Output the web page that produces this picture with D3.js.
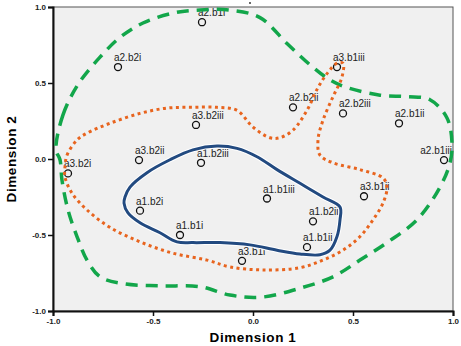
<!DOCTYPE html>
<html>
<head>
<meta charset="utf-8">
<script src="https://cdn.jsdelivr.net/npm/d3@7"></script>
<style>
  body { margin: 0; background: #fff; }
  text { font-family: "Liberation Sans", Arial, sans-serif; }
</style>
</head>
<body>
<svg id="chart" width="461" height="346"></svg>
<script>
// point labels and their coordinates (Dimension 1, Dimension 2)
const labels = ['a2.b1i', 'a2.b2i', 'a3.b2iii', 'a3.b2ii', 'a1.b2iii', 'a3.b2i', 'a3.b1iii', 'a2.b2ii',
  'a2.b2iii', 'a2.b1ii', 'a2.b1iii', 'a1.b2i', 'a1.b1i', 'a1.b1iii', 'a3.b1ii', 'a1.b2ii', 'a1.b1ii', 'a3.b1i'];
const dim1 = [-0.255, -0.675, -0.285, -0.57, -0.26, -0.925, 0.42, 0.2, 0.45, 0.73, 0.955, -0.565, -0.365, 0.07, 0.555, 0.30, 0.27, -0.055];
const dim2 = [0.90, 0.605, 0.224, -0.007, -0.025, -0.095, 0.605, 0.34, 0.30, 0.235, -0.007, -0.34, -0.5, -0.26, -0.245, -0.41, -0.58, -0.67];

const ticks = [-1.0, -0.5, 0.0, 0.5, 1.0];

// hand drawn group outlines
const greenOutline = [[-0.985, 0.06], [-0.95, 0.29], [-0.875, 0.49], [-0.765, 0.67], [-0.665, 0.80], [-0.55, 0.895],
  [-0.40, 0.96], [-0.265, 0.98], [-0.115, 0.98], [0.035, 0.93], [0.17, 0.76], [0.285, 0.62], [0.385, 0.52],
  [0.47, 0.47], [0.635, 0.42], [0.77, 0.41], [0.885, 0.39], [0.97, 0.27], [0.995, 0.105], [0.985, -0.025],
  [0.935, -0.185], [0.82, -0.40], [0.67, -0.55], [0.535, -0.665], [0.40, -0.775], [0.235, -0.85], [0.035, -0.91],
  [-0.115, -0.895], [-0.265, -0.84], [-0.465, -0.835], [-0.65, -0.82], [-0.765, -0.775], [-0.83, -0.665],
  [-0.88, -0.51], [-0.925, -0.335], [-0.955, -0.14], [-0.965, -0.005]];
const orangeOutline = [[-0.94, -0.05], [-0.93, 0.025], [-0.88, 0.125], [-0.83, 0.17], [-0.715, 0.235], [-0.565, 0.30],
  [-0.43, 0.335], [-0.30, 0.34], [-0.18, 0.34], [-0.08, 0.32], [0.0, 0.21], [0.085, 0.14], [0.135, 0.14],
  [0.20, 0.19], [0.27, 0.32], [0.325, 0.47], [0.375, 0.57], [0.42, 0.63], [0.45, 0.63], [0.445, 0.54],
  [0.40, 0.41], [0.35, 0.255], [0.325, 0.125], [0.335, 0.025], [0.40, -0.025], [0.535, -0.07], [0.65, -0.125],
  [0.67, -0.185], [0.65, -0.29], [0.60, -0.40], [0.535, -0.51], [0.45, -0.60], [0.35, -0.665], [0.235, -0.715],
  [0.05, -0.73], [-0.115, -0.71], [-0.23, -0.665], [-0.40, -0.62], [-0.565, -0.545], [-0.715, -0.45],
  [-0.83, -0.335], [-0.905, -0.225], [-0.94, -0.12]];
const blueOutline = [[-0.64, -0.25], [-0.615, -0.185], [-0.53, -0.09], [-0.415, -0.005], [-0.30, 0.06], [-0.18, 0.085],
  [-0.08, 0.07], [0.02, 0.015], [0.12, -0.07], [0.235, -0.16], [0.35, -0.25], [0.435, -0.315], [0.435, -0.40],
  [0.42, -0.51], [0.385, -0.60], [0.335, -0.63], [0.235, -0.625], [0.12, -0.60], [-0.015, -0.565], [-0.165, -0.55],
  [-0.30, -0.55], [-0.38, -0.545], [-0.465, -0.485], [-0.565, -0.42], [-0.625, -0.355], [-0.645, -0.29]];

const svg = d3.select('#chart');
const plotLeft = 53, plotRight = 453, plotTop = 7, plotBottom = 311;

const xScale = d3.scaleLinear().domain([-1, 1]).range([plotLeft, plotRight]);
const yScale = d3.scaleLinear().domain([-1, 1]).range([plotBottom, plotTop]);

svg.append('rect')
  .attr('x', plotLeft).attr('y', plotTop)
  .attr('width', plotRight - plotLeft).attr('height', plotBottom - plotTop)
  .attr('fill', '#f0f0f0')
  .attr('stroke', '#555').attr('stroke-width', 1);

// stray dot above the frame
svg.append('circle').attr('cx', 250).attr('cy', 3).attr('r', 0.9).attr('fill', '#222');

const fmt = d => d.toFixed(1);
const xAxis = d3.axisBottom(xScale).tickValues(ticks).tickFormat(fmt).tickSize(5).tickPadding(2);
const yAxis = d3.axisLeft(yScale).tickValues(ticks).tickFormat(fmt).tickSize(5).tickPadding(2);

const gx = svg.append('g').attr('transform', `translate(0,${plotBottom})`).call(xAxis);
const gy = svg.append('g').attr('transform', `translate(${plotLeft},0)`).call(yAxis);
[gx, gy].forEach(g => {
  g.select('.domain').attr('stroke', '#111').attr('stroke-width', 2);
  g.selectAll('.tick line').attr('stroke', '#111').attr('stroke-width', 1.5);
  g.selectAll('.tick text').attr('font-size', 8).attr('font-weight', 'bold')
    .attr('fill', '#222').attr('font-family', '"DejaVu Sans Mono", monospace');
});

svg.append('text').attr('x', 253).attr('y', 342).attr('text-anchor', 'middle')
  .attr('font-size', 13.5).attr('font-weight', 'bold').attr('letter-spacing', 0.6)
  .attr('font-family', '"DejaVu Sans", sans-serif')
  .text('Dimension 1');
svg.append('text').attr('transform', 'translate(16,159) rotate(-90)').attr('text-anchor', 'middle')
  .attr('font-size', 13.5).attr('font-weight', 'bold').attr('letter-spacing', 0.6)
  .attr('font-family', '"DejaVu Sans", sans-serif')
  .text('Dimension 2');

// points and labels
const pts = labels.map((l, i) => ({label: l, x: dim1[i], y: dim2[i]}));
const pg = svg.append('g');
pg.selectAll('circle').data(pts).join('circle')
  .attr('cx', d => xScale(d.x)).attr('cy', d => yScale(d.y)).attr('r', 3.5)
  .attr('fill', 'none').attr('stroke', '#111').attr('stroke-width', 1.3);
pg.selectAll('text').data(pts).join('text')
  .attr('y', d => yScale(d.y) - 6)
  .attr('font-size', 10).attr('fill', '#222').text(d => d.label)
  .attr('x', function(d) {
    const w = this.getComputedTextLength();
    return Math.min(xScale(d.x) - 4, plotRight - 1 - w);
  });

// outlines
const line = d3.line().x(d => xScale(d[0])).y(d => yScale(d[1])).curve(d3.curveCatmullRomClosed.alpha(0.5));

svg.append('path').attr('d', line(greenOutline)).attr('fill', 'none')
  .attr('stroke', '#12a64a').attr('stroke-width', 3.5).attr('stroke-dasharray', '12,8');
svg.append('path').attr('d', line(orangeOutline)).attr('fill', 'none')
  .attr('stroke', '#e8641e').attr('stroke-width', 3).attr('stroke-dasharray', '3,3.5');
svg.append('path').attr('d', line(blueOutline)).attr('fill', 'none')
  .attr('stroke', '#fff').attr('stroke-width', 5);
svg.append('path').attr('d', line(blueOutline)).attr('fill', 'none')
  .attr('stroke', '#224a80').attr('stroke-width', 3);
</script>
</body>
</html>
